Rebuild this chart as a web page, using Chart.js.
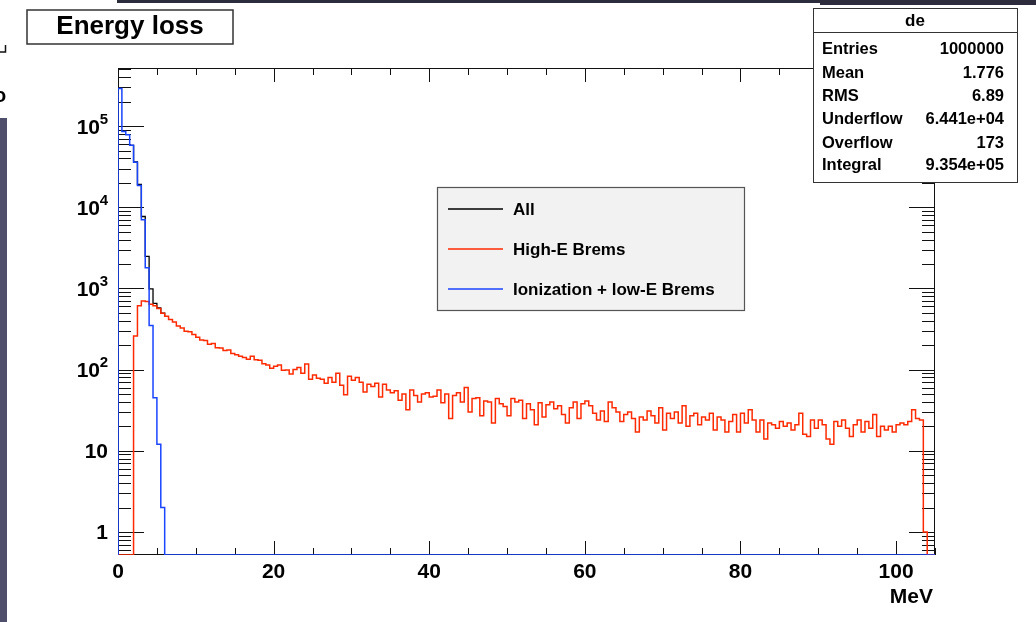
<!DOCTYPE html>
<html>
<head>
<meta charset="utf-8">
<title>Energy loss</title>
<script src="https://cdn.jsdelivr.net/npm/chart.js@4.4.1/dist/chart.umd.min.js"></script>
<style>
  html, body { margin: 0; padding: 0; background: #fff; }
  #wrap { position: relative; width: 1036px; height: 622px; }
</style>
</head>
<body>
<div id="wrap"><canvas id="eloss" width="1036" height="622"></canvas></div>
<script>
// histogram "de" : 0.5 MeV bins from 0 to 105 MeV
var binWidth = 0.5;
var nBins = 210;
var xMin = 0, xMax = 105;
var yMin = 0.52, yMax = 5.2e5;

// Ionization + low-E Brems (bins after the last one listed are empty)
var ionCounts = [290000, 86000, 78000, 58000, 36000, 18500, 7000, 1800, 350, 45, 12, 2];

// High-E Brems, one value per bin
var bremsCounts = [
  0, 0, 0, 0, 260, 610, 700, 690, 640, 610,
  565, 495, 455, 415, 385, 345, 325, 298, 292, 270,
  250, 232, 228, 205, 210, 186, 184, 172, 174, 158,
  152, 146, 141, 134, 146, 132, 130, 118, 114, 104,
  110, 114, 98, 99, 88, 100, 106, 90, 117, 76,
  86, 78, 76, 68, 80, 70, 90, 64, 49, 83,
  74, 80, 70, 53, 66, 62, 68, 46, 66, 56,
  52, 55, 42, 50, 32, 56, 48, 40, 50, 52,
  46, 47, 56, 39, 50, 25, 48, 52, 40, 60,
  30, 44, 45, 27, 41, 40, 22, 44, 38, 35,
  27, 44, 40, 42, 25, 38, 32, 21, 39, 26,
  37, 40, 33, 36, 28, 22, 34, 40, 25, 38,
  41, 36, 29, 24, 31, 23, 40, 34, 30, 23,
  28, 30, 25, 17, 26, 24, 31, 27, 22, 34,
  18, 29, 25, 30, 22, 36, 20, 27, 29, 21,
  26, 24, 29, 18, 26, 24, 17, 23, 28, 17,
  29, 22, 32, 24, 17, 24, 14, 22, 21, 19,
  23, 20, 22, 18, 21, 29, 16, 15, 24, 19,
  24, 21, 14, 12, 23, 20, 24, 19, 15, 21,
  24, 17, 23, 19, 28, 15, 20, 18, 20, 17,
  21, 22, 21, 23, 32, 25, 24, 1, 0, 0
];

var xTickValues = [0, 20, 40, 60, 80, 100];
var xTickLabels = ['0', '20', '40', '60', '80', '100'];
var yTickValues = [1, 10, 100, 1000, 10000, 100000];
var yTickBase = ['1', '10', '10', '10', '10', '10'];
var yTickExp = ['', '', '2', '3', '4', '5'];

var seriesNames = ['All', 'High-E Brems', 'Ionization + low-E Brems'];
var seriesColors = ['#000000', '#ff2a00', '#1a45ff'];

var statLabels = ['Entries', 'Mean', 'RMS', 'Underflow', 'Overflow', 'Integral'];
var statValues = ['1000000', '1.776', '6.89', '6.441e+04', '173', '9.354e+05'];

var titleText = 'Energy loss';
var histName = 'de';
var xAxisTitle = 'MeV';

function countAt(arr, i){
  if (i < 0 || i >= nBins) return 0;
  return i < arr.length ? arr[i] : 0;
}

// turn bin contents into step points (empty bins sit on the bottom of the frame)
function toPoints(counts){
  var pts = [{x: xMin, y: yMin}];
  var last = yMin;
  for (var i = 0; i < nBins; i++){
    var c = counts[i];
    last = c > 0 ? c : yMin;
    pts.push({x: xMin + i * binWidth, y: last});
  }
  pts.push({x: xMin + nBins * binWidth, y: last});
  return pts;
}

var ionFull = [], bremsFull = [], allFull = [];
for (var i = 0; i < nBins; i++){
  ionFull.push(countAt(ionCounts, i));
  bremsFull.push(countAt(bremsCounts, i));
  allFull.push(countAt(ionCounts, i) + countAt(bremsCounts, i));
}

// the "All" line is hidden under the coloured ones wherever one of them is empty
function allSegmentColor(c){
  var b0 = c.p0DataIndex - 1, b1 = Math.min(c.p1DataIndex - 1, nBins - 1);
  var noIon = countAt(ionCounts, b0) == 0 && countAt(ionCounts, b1) == 0;
  var noBrems = countAt(bremsCounts, b0) == 0 && countAt(bremsCounts, b1) == 0;
  if (noIon || noBrems){
    return 'rgba(0,0,0,0)';
  }
  return undefined;
}

var FONT = '"Liberation Sans", Arial, Helvetica, sans-serif';

// frame and tick marks, under the histograms
function drawFrame(chart){
  var ctx = chart.ctx;
  var xs = chart.scales.x, ys = chart.scales.y;
  var a = chart.chartArea;
  ctx.save();
  ctx.strokeStyle = '#111';
  ctx.lineWidth = 1;
  ctx.strokeRect(a.left + 0.5, a.top + 0.5, a.right - a.left - 1, a.bottom - a.top - 1);

  ctx.beginPath();
  for (var v = xMin; v <= xMax; v += 5){
    var px = Math.round(xs.getPixelForValue(v)) + 0.5;
    var len = (v % 20 == 0) ? 14 : 7;
    ctx.moveTo(px, a.bottom); ctx.lineTo(px, a.bottom - len);
    ctx.moveTo(px, a.top); ctx.lineTo(px, a.top + len);
  }
  for (var d = -1; d <= 5; d++){
    for (var m = 1; m <= 9; m++){
      var val = m * Math.pow(10, d);
      if (val < yMin || val > yMax) continue;
      var py = Math.round(ys.getPixelForValue(val)) + 0.5;
      var l = (m == 1) ? 26 : 13;
      ctx.moveTo(a.left, py); ctx.lineTo(a.left + l, py);
      ctx.moveTo(a.right, py); ctx.lineTo(a.right - l, py);
    }
  }
  ctx.stroke();
  ctx.restore();
}

function drawDecor(chart){
  var ctx = chart.ctx;
  var xs = chart.scales.x, ys = chart.scales.y;
  ctx.save();

  // x labels
  ctx.fillStyle = '#000';
  ctx.font = 'bold 21px ' + FONT;
  ctx.textAlign = 'center';
  ctx.textBaseline = 'alphabetic';
  for (var k = 0; k < xTickValues.length; k++){
    ctx.fillText(xTickLabels[k], xs.getPixelForValue(xTickValues[k]), 578);
  }
  ctx.textAlign = 'right';
  ctx.fillText(xAxisTitle, 933, 603);

  // y labels, with exponents
  for (var k = 0; k < yTickValues.length; k++){
    var ty = ys.getPixelForValue(yTickValues[k]) + 7.5;
    ctx.font = 'bold 21px ' + FONT;
    if (yTickExp[k]){
      ctx.fillText(yTickBase[k], 100, ty);
      ctx.font = 'bold 15px ' + FONT;
      ctx.fillText(yTickExp[k], 108, ty - 10);
    }else{
      ctx.fillText(yTickBase[k], 108, ty);
    }
  }

  // title box
  ctx.fillStyle = '#fff';
  ctx.fillRect(27, 10, 206, 34);
  ctx.strokeStyle = '#333';
  ctx.lineWidth = 1.5;
  ctx.strokeRect(27, 10, 206, 34);
  ctx.fillStyle = '#000';
  ctx.font = 'bold 26px ' + FONT;
  ctx.textAlign = 'center';
  ctx.fillText(titleText, 130, 34);

  // legend box
  ctx.fillStyle = '#f2f2f2';
  ctx.fillRect(437, 187, 307, 123);
  ctx.strokeStyle = '#555';
  ctx.lineWidth = 1.2;
  ctx.strokeRect(437.5, 187.5, 307, 123);
  var legY = [209, 249, 289];
  ctx.font = 'bold 17px ' + FONT;
  ctx.textAlign = 'left';
  for (var k = 0; k < seriesNames.length; k++){
    ctx.strokeStyle = seriesColors[k];
    ctx.lineWidth = 1.5;
    ctx.beginPath();
    ctx.moveTo(448, legY[k]); ctx.lineTo(503, legY[k]);
    ctx.stroke();
    ctx.fillStyle = '#000';
    ctx.fillText(seriesNames[k], 513, legY[k] + 6);
  }

  // stats box
  ctx.fillStyle = '#fff';
  ctx.fillRect(813, 8, 204, 174);
  ctx.strokeStyle = '#333';
  ctx.lineWidth = 1;
  ctx.strokeRect(813.5, 8.5, 204, 174);
  ctx.beginPath();
  ctx.moveTo(813.5, 32.5); ctx.lineTo(1017.5, 32.5);
  ctx.stroke();
  ctx.fillStyle = '#000';
  ctx.font = 'bold 17px ' + FONT;
  ctx.textAlign = 'center';
  ctx.fillText(histName, 915, 26);
  var rowY = [48, 72, 95, 118, 142, 164];
  ctx.font = 'bold 16.5px ' + FONT;
  for (var k = 0; k < statLabels.length; k++){
    ctx.textAlign = 'left';
    ctx.fillText(statLabels[k], 822, rowY[k] + 6);
    ctx.textAlign = 'right';
    ctx.fillText(statValues[k], 1004, rowY[k] + 6);
  }

  // bits of the surrounding window in the screenshot
  ctx.fillStyle = '#4f4f6c';
  ctx.fillRect(0, 118, 7, 504);
  ctx.fillStyle = '#2c2c3c';
  ctx.fillRect(117, 0, 919, 3);
  ctx.fillRect(820, 0, 216, 5);
  ctx.strokeStyle = '#111';
  ctx.lineWidth = 1.5;
  ctx.beginPath();
  ctx.moveTo(5.5, 45); ctx.lineTo(5.5, 52); ctx.lineTo(0, 52);
  ctx.stroke();
  ctx.fillStyle = '#000';
  ctx.font = 'bold 20px ' + FONT;
  ctx.textAlign = 'left';
  ctx.fillText('o', -6, 102);

  ctx.restore();
}

var rootDecor = {
  id: 'rootDecor',
  beforeDatasetsDraw: function(chart){ drawFrame(chart); },
  afterDraw: function(chart){ drawDecor(chart); }
};

var eloss = new Chart(document.getElementById('eloss'), {
  type: 'line',
  data: {
    datasets: [
      {
        label: seriesNames[2],
        data: toPoints(ionFull),
        borderColor: seriesColors[2],
        borderWidth: 1.5,
        stepped: true,
        pointRadius: 0,
        fill: false,
        order: 0
      },
      {
        label: seriesNames[1],
        data: toPoints(bremsFull),
        borderColor: seriesColors[1],
        borderWidth: 1.5,
        stepped: true,
        pointRadius: 0,
        fill: false,
        order: 1
      },
      {
        label: seriesNames[0],
        data: toPoints(allFull),
        borderColor: seriesColors[0],
        borderWidth: 1.3,
        stepped: true,
        pointRadius: 0,
        fill: false,
        segment: { borderColor: allSegmentColor },
        order: 2
      }
    ]
  },
  options: {
    responsive: false,
    animation: false,
    events: [],
    layout: { padding: { left: 118, top: 68, right: 101, bottom: 67 } },
    scales: {
      x: { type: 'linear', min: xMin, max: xMax, display: false },
      y: { type: 'logarithmic', min: yMin, max: yMax, display: false }
    },
    plugins: {
      legend: { display: false },
      title: { display: false },
      tooltip: { enabled: false }
    }
  },
  plugins: [rootDecor]
});
</script>
</body>
</html>
